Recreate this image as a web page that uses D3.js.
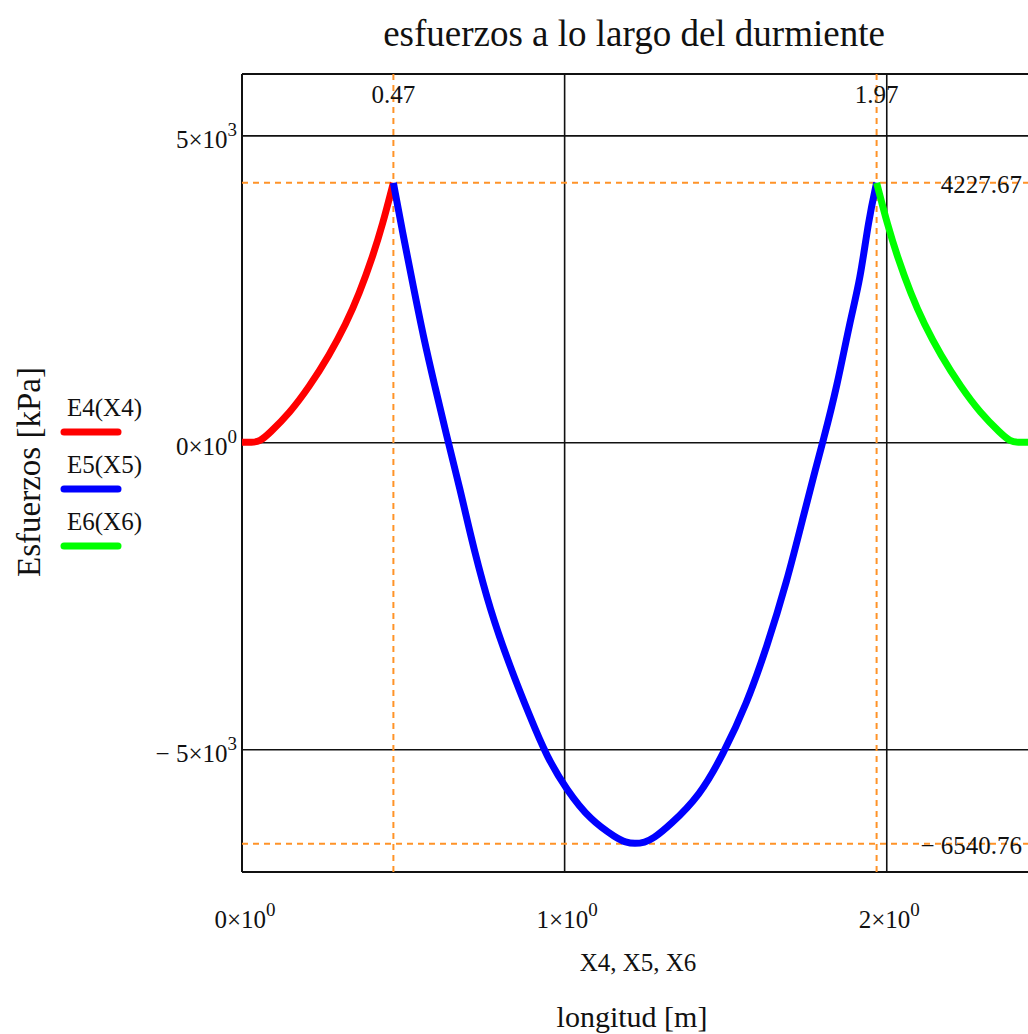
<!DOCTYPE html>
<html>
<head>
<meta charset="utf-8">
<script src="https://cdn.jsdelivr.net/npm/d3@7"></script>
<style>
  html, body { margin: 0; padding: 0; background: #fff; }
  svg { display: block; }
  text { font-family: "Liberation Serif", "DejaVu Serif", serif; fill: #111; }
</style>
</head>
<body>
<script>
// ---- data ----
const redX = [0, 0.03, 0.055, 0.085, 0.147, 0.209, 0.271, 0.323, 0.364, 0.406, 0.437, 0.466, 0.47];
const redY = [0, 0, 10, 147, 472, 906, 1420, 1930, 2420, 3030, 3560, 4150, 4227.67];

const blueX = [0.47, 0.501, 0.532, 0.563, 0.599, 0.636, 0.667, 0.687, 0.718, 0.770, 0.832, 0.894, 0.946, 1.008, 1.081, 1.164, 1.19, 1.22, 1.25, 1.276, 1.328, 1.421, 1.494, 1.567, 1.629, 1.691, 1.743, 1.774, 1.804, 1.847, 1.888, 1.919, 1.945, 1.97];
const blueY = [4227.67, 3350, 2535, 1720, 906, 91, -560, -994, -1701, -2732, -3656, -4470, -5122, -5665, -6153, -6452, -6518, -6540.76, -6518, -6460, -6240, -5760, -5080, -4260, -3340, -2280, -1200, -560, 20, 906, 1993, 2644, 3622, 4227.67];

const greenX = [1.97, 1.974, 2.003, 2.034, 2.076, 2.117, 2.169, 2.231, 2.293, 2.355, 2.385, 2.41, 2.44];
const greenY = [4227.67, 4150, 3560, 3030, 2420, 1930, 1420, 906, 472, 147, 10, 0, 0];

const seriesNames = ["E4(X4)", "E5(X5)", "E6(X6)"];
const seriesColors = ["#ff0000", "#0000ff", "#00ff00"];

const xTicks = [0, 1, 2];
const xTickMant = ["0", "1", "2"];
const xTickExp = ["0", "0", "0"];
const yTicks = [5000, 0, -5000];
const yTickMant = ["5", "0", "\u2212 5"];
const yTickExp = ["3", "0", "3"];

const markerX = [0.47, 1.97];
const markerXLabels = ["0.47", "1.97"];
const markerY = [4227.67, -6540.76];
const markerYLabels = ["4227.67", "\u2212 6540.76"];

const titleText = "esfuerzos a lo largo del durmiente";
const xVarText = "X4, X5, X6";
const xLabelText = "longitud [m]";
const yLabelText = "Esfuerzos [kPa]";

// ---- layout ----
const W = 1028, H = 1034;
const L = 242, R = 1028, T = 74, B = 872;

const svg = d3.select("body").append("svg").attr("width", W).attr("height", H);

const x = d3.scaleLinear().domain([0, 2.44]).range([L, R]);
const y = d3.scaleLinear().domain([-7000, 6000]).range([B, T]);

// grid lines
const gx = svg.append("g").attr("transform", `translate(0,${B})`)
  .call(d3.axisBottom(x).tickValues(xTicks.filter(v => v > 0)).tickSize(-(B - T)).tickFormat(""));
const gy = svg.append("g").attr("transform", `translate(${L},0)`)
  .call(d3.axisLeft(y).tickValues(yTicks).tickSize(-(R - L)).tickFormat(""));
[gx, gy].forEach(g => {
  g.select(".domain").remove();
  g.selectAll(".tick line").attr("stroke", "#111").attr("stroke-width", 1.6);
});

// frame (left, top, bottom)
svg.append("line").attr("x1", L).attr("x2", L).attr("y1", T).attr("y2", B).attr("stroke", "#111").attr("stroke-width", 2);
svg.append("line").attr("x1", L).attr("x2", R).attr("y1", T).attr("y2", T).attr("stroke", "#111").attr("stroke-width", 2);
svg.append("line").attr("x1", L).attr("x2", R).attr("y1", B).attr("y2", B).attr("stroke", "#111").attr("stroke-width", 2);

// orange markers
const orange = "#ff9328";
markerX.forEach(v => {
  svg.append("line").attr("x1", x(v)).attr("x2", x(v)).attr("y1", T).attr("y2", B)
    .attr("stroke", orange).attr("stroke-width", 2).attr("stroke-dasharray", "6,5");
});
markerY.forEach(v => {
  svg.append("line").attr("x1", L).attr("x2", R).attr("y1", y(v)).attr("y2", y(v))
    .attr("stroke", orange).attr("stroke-width", 2).attr("stroke-dasharray", "6,5");
});

// curves
const lineGen = d3.line().x(d => x(d[0])).y(d => y(d[1])).curve(d3.curveBasis);
const allSeries = [
  d3.zip(redX, redY),
  d3.zip(blueX, blueY),
  d3.zip(greenX, greenY)
];
allSeries.forEach((data, i) => {
  svg.append("path").datum(data).attr("d", lineGen)
    .attr("fill", "none").attr("stroke", seriesColors[i])
    .attr("stroke-width", 7).attr("stroke-linejoin", "round").attr("stroke-linecap", "butt");
});

// marker labels
markerX.forEach((v, i) => {
  svg.append("text").attr("x", x(v)).attr("y", 103).attr("text-anchor", "middle")
    .attr("font-size", 25).text(markerXLabels[i]);
});
markerY.forEach((v, i) => {
  svg.append("text").attr("x", 1022).attr("y", y(v) + 10).attr("text-anchor", "end")
    .attr("font-size", 25).text(markerYLabels[i]);
});

// tick labels with superscripts
function sciLabel(g, mant, exp) {
  g.append("tspan").text(mant + "\u00d710");
  g.append("tspan").attr("dy", -12).attr("font-size", 19).text(exp);
}
yTicks.forEach((v, i) => {
  const t = svg.append("text").attr("x", 237).attr("y", y(v) + 13).attr("text-anchor", "end").attr("font-size", 25);
  sciLabel(t, yTickMant[i], yTickExp[i]);
});
xTicks.forEach((v, i) => {
  const t = svg.append("text").attr("x", x(v) + 3).attr("y", 928).attr("text-anchor", "middle").attr("font-size", 25);
  sciLabel(t, xTickMant[i], xTickExp[i]);
});

// axis titles
svg.append("text").attr("x", 634).attr("y", 46).attr("text-anchor", "middle").attr("font-size", 37).text(titleText);
svg.append("text").attr("x", 638).attr("y", 971).attr("text-anchor", "middle").attr("font-size", 25).text(xVarText);
svg.append("text").attr("x", 632).attr("y", 1027).attr("text-anchor", "middle").attr("font-size", 30).text(xLabelText);
svg.append("text").attr("transform", "translate(40,472) rotate(-90)").attr("text-anchor", "middle")
  .attr("font-size", 33).text(yLabelText);

// legend
seriesNames.forEach((name, i) => {
  const yy = 416 + i * 57;
  svg.append("text").attr("x", 67).attr("y", yy).attr("font-size", 25).text(name);
  svg.append("line").attr("x1", 64).attr("x2", 118).attr("y1", yy + 16).attr("y2", yy + 16)
    .attr("stroke", seriesColors[i]).attr("stroke-width", 7).attr("stroke-linecap", "round");
});
</script>
</body>
</html>
